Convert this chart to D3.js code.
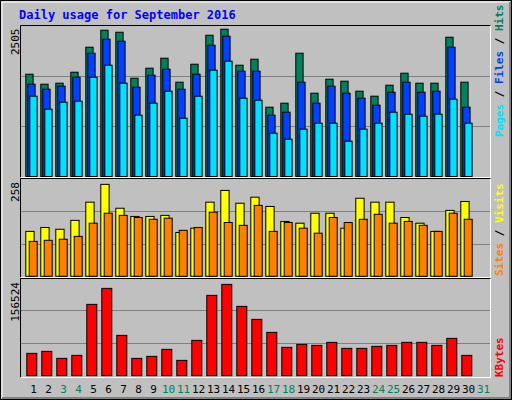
<!DOCTYPE html><html><head><script src="https://cdn.jsdelivr.net/npm/d3@7"></script>
<style>body{margin:0;background:#fff}</style></head><body><svg id="c" width="512" height="400"></svg>
<script>
const days=d3.range(1,32).map(String);
const weekend=["3","4","10","11","17","18","24","25","31"];
const hits=[1740,1570,1587,1774,2199,2488,2454,1672,1842,2012,1604,1910,2403,2505,1893,1995,1179,1247,2097,1417,1655,1621,1451,1366,1553,1757,1587,1587,2369,1604];
const files=[1570,1485,1536,1689,2097,2335,2301,1519,1723,1825,1485,1740,2233,2386,1791,1791,1043,1094,1604,1247,1536,1417,1332,1213,1434,1604,1434,1451,2199,1179];
const pages=[1366,1145,1264,1281,1689,1893,1587,1043,1247,1451,992,1366,1808,1961,1332,1298,737,635,805,907,907,601,805,907,1094,1060,1026,1060,1315,907];
const visits=[126,137,132,157,208,258,191,168,168,171,123,135,208,241,205,222,196,154,149,177,177,135,219,208,208,165,149,126,185,210];
const sites=[98,101,104,112,149,177,171,165,160,163,129,137,180,151,143,199,126,151,135,121,165,151,160,174,149,154,143,126,177,160];
const kbytes=[38277,41705,29708,34849,122258,149681,69127,29708,33135,45133,26280,60558,137683,156524,118830,96550,74269,48561,53702,51988,57130,46847,46847,50274,51988,57130,57130,51988,63986,34849];
const maxLabels=["2505","258","156524"];

const svg=d3.select("#c");
const F="'DejaVu Sans Mono', monospace";
svg.append("rect").attr("x",0.5).attr("y",0.5).attr("width",511).attr("height",399).attr("fill","#c0c0c0").attr("stroke","#000");
svg.append("path").attr("d","M2,398V2H510").attr("fill","none").attr("stroke","#fff");
svg.append("path").attr("d","M2,398H510V2").attr("fill","none").attr("stroke","#808080").attr("stroke-width",2);
svg.append("text").attr("x",19).attr("y",19).attr("fill","#0000ff").attr("font-family",F).attr("font-weight","bold").attr("font-size",12).text("Daily usage for September 2016");

const x=d3.scaleBand().domain(days).range([24,489]).paddingInner(0);
// panels
const panels=[{y0:25,y1:177,base:176.5,top:26,max:2560},{y0:178,y1:277,base:276.3,top:178.3,max:275},{y0:278,y1:377,base:375.7,top:276.7,max:169666}];
panels.forEach(p=>{
  svg.append("rect").attr("x",20.5).attr("y",p.y0+0.5).attr("width",470).attr("height",p.y1-p.y0).attr("fill","#c0c0c0");
  svg.append("path").attr("d",`M20.5,${p.y1+0.5}V${p.y0+0.5}H491`).attr("fill","none").attr("stroke","#000");
  svg.append("path").attr("d",`M20.5,${p.y1+0.5}H490.5V${p.y0+0.5}`).attr("fill","none").attr("stroke","#fff");
  p.y=d3.scaleLinear().domain([0,p.max]).range([p.base,p.top]);
  [p.max/3,2*p.max/3].forEach(v=>svg.append("line").attr("x1",21).attr("x2",490).attr("y1",Math.round(p.y(v))+0.5).attr("y2",Math.round(p.y(v))+0.5).attr("stroke","#808080"));
});
function bars(p,data,off,w,col){
  svg.append("g").selectAll("rect").data(data).join("rect")
   .attr("x",(d,i)=>x(days[i])+off+0.5).attr("width",w)
   .attr("y",d=>p.y(d)).attr("height",d=>p.base-p.y(d))
   .attr("fill",col).attr("stroke","#000").attr("stroke-width",1);
}
bars(panels[0],hits,1.3,7.3,"#00805c");
bars(panels[0],files,3.3,7.3,"#0040ff");
bars(panels[0],pages,5.3,7.3,"#00e0ff");
bars(panels[1],visits,1.3,8.3,"#ffff00");
bars(panels[1],sites,4.7,8,"#ff8000");
bars(panels[2],kbytes,2.3,10,"#ff0000");
// max labels
[[panels[0],maxLabels[0],28.5],[panels[1],maxLabels[1],182],[panels[2],maxLabels[2],282]].forEach(([p,t,y])=>{
  svg.append("text").attr("transform",`translate(19,${y}) rotate(-90)`).attr("text-anchor","end").attr("font-family",F).attr("font-size",11).attr("fill","#000").text(t);
});
// right labels
function rlabel(y,parts){
  const t=svg.append("text").attr("transform",`translate(503,${y}) rotate(90)`).attr("text-anchor","start").attr("font-family",F).attr("font-size",11).attr("font-weight","bold");
  parts.forEach(([s,c])=>t.append("tspan").attr("fill",c).text(s));
}
// reading top-to-bottom, rotated 90 shows reversed order; use rotate(-90) instead
function llabel(yBottom,parts){
  const t=svg.append("text").attr("transform",`translate(503,${yBottom}) rotate(-90)`).attr("text-anchor","start").attr("font-family",F).attr("font-size",11).attr("font-weight","bold");
  parts.forEach(([s,c])=>t.append("tspan").attr("fill",c).text(s));
}
llabel(137,[["Pages","#00e0ff"],[" / ","#000"],["Files","#0040ff"],[" / ","#000"],["Hits","#00805c"]]);
llabel(276,[["Sites","#ff8000"],[" / ","#000"],["Visits","#ffff00"]]);
llabel(377,[["KBytes","#ff0000"]]);
// day labels
svg.append("g").selectAll("text").data(days).join("text")
 .attr("x",d=>x(d)+x.bandwidth()/2+2).attr("y",393).attr("text-anchor","middle")
 .attr("font-family",F).attr("font-size",11).attr("fill",d=>weekend.includes(d)?"#00805c":"#000").text(d=>d);
</script></body></html>
